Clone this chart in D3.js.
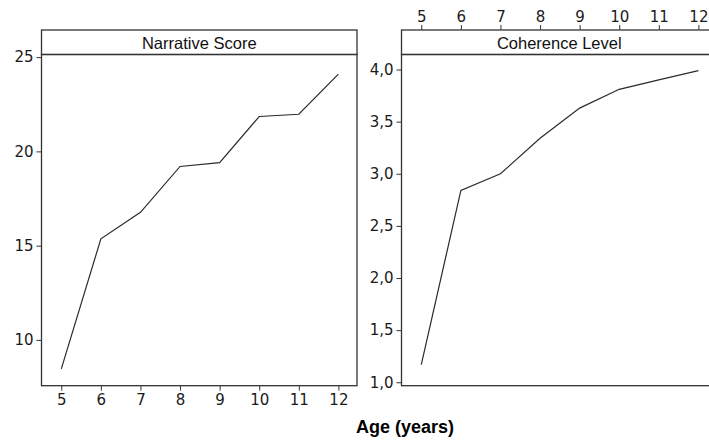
<!DOCTYPE html>
<html>
<head>
<meta charset="utf-8">
<script src="https://cdn.jsdelivr.net/npm/d3@7"></script>
<style>
  body { margin: 0; background: #fff; }
  .tick text { font-family: "DejaVu Sans", Verdana, sans-serif; font-size: 15px; fill: #1a1a1a; }
  .tick line, .domain { stroke: #333; }
  .strip-title { font-family: "Liberation Sans", Arial, sans-serif; font-size: 16.5px; fill: #111; }
</style>
</head>
<body>
<div id="chart"></div>
<script>
// data
var ages = [5, 6, 7, 8, 9, 10, 11, 12];
var narrativeScores = [8.46, 15.36, 16.77, 19.2, 19.4, 21.85, 21.97, 24.1];
var coherenceLevels = [1.17, 2.84, 3.0, 3.34, 3.63, 3.81, 3.9, 3.99];
var narrativeTicks = [10, 15, 20, 25];
var coherenceTicks = [1.0, 1.5, 2.0, 2.5, 3.0, 3.5, 4.0];

var svgWidth = 709;
var svgHeight = 440;

var svg = d3.select("#chart")
  .append("svg")
  .attr("width", svgWidth)
  .attr("height", svgHeight);

// panel layout
var stripTop = 30;
var plotTop = 54.5;
var plotBottom = 385.7;

var panels = [
  {
    x0: 41.5, x1: 357, title: "Narrative Score", values: narrativeScores,
    ydomain: [7.57, 25.14], ticks: narrativeTicks,
    fmt: d3.format("d"), bottomLabels: true
  },
  {
    x0: 401.5, x1: 717, title: "Coherence Level", values: coherenceLevels,
    ydomain: [0.967, 4.144], ticks: coherenceTicks,
    fmt: function(d) { return d3.format(".1f")(d).replace(".", ","); }, bottomLabels: false
  }
];

panels.forEach(function(p) {
  var x = d3.scaleLinear().domain([4.5, 12.47]).range([p.x0, p.x1]);
  var y = d3.scaleLinear().domain(p.ydomain).range([plotBottom, plotTop]);

  var g = svg.append("g");

  // strip box
  g.append("rect")
    .attr("x", p.x0).attr("y", stripTop)
    .attr("width", p.x1 - p.x0).attr("height", plotTop - stripTop)
    .attr("fill", "#fff").attr("stroke", "#333").attr("stroke-width", 1.3);
  g.append("text")
    .attr("class", "strip-title")
    .attr("x", (p.x0 + p.x1) / 2).attr("y", 49)
    .attr("text-anchor", "middle")
    .text(p.title);

  // plot box
  g.append("rect")
    .attr("x", p.x0).attr("y", plotTop)
    .attr("width", p.x1 - p.x0).attr("height", plotBottom - plotTop)
    .attr("fill", "none").attr("stroke", "#333").attr("stroke-width", 1.3);

  // y axis
  var yAxis = d3.axisLeft(y).tickValues(p.ticks).tickSize(5).tickPadding(3).tickFormat(p.fmt);
  g.append("g")
    .attr("transform", "translate(" + p.x0 + ",0)")
    .call(yAxis)
    .call(function(a) { a.select(".domain").remove(); });

  // x axis: bottom on the left panel, top of the strip on the right one
  if (p.bottomLabels) {
    var xAxis = d3.axisBottom(x).tickValues(ages).tickSize(5).tickPadding(4).tickFormat(d3.format("d"));
    g.append("g")
      .attr("transform", "translate(0," + plotBottom + ")")
      .call(xAxis)
      .call(function(a) { a.select(".domain").remove(); });
  } else {
    var xTop = d3.axisTop(x).tickValues(ages).tickSize(5).tickPadding(3).tickFormat(d3.format("d"));
    g.append("g")
      .attr("transform", "translate(0," + stripTop + ")")
      .call(xTop)
      .call(function(a) { a.select(".domain").remove(); });
  }

  // the line
  var line = d3.line()
    .x(function(d, i) { return x(ages[i]); })
    .y(function(d) { return y(d); });
  g.append("path")
    .datum(p.values)
    .attr("fill", "none")
    .attr("stroke", "#2a2a2a")
    .attr("stroke-width", 1.2)
    .attr("d", line);
});

// shared x label
svg.append("text")
  .attr("x", 405).attr("y", 433)
  .attr("text-anchor", "middle")
  .style("font-family", "Liberation Sans, Arial, sans-serif")
  .style("font-weight", "bold")
  .style("font-size", "18px")
  .text("Age (years)");
</script>
</body>
</html>
